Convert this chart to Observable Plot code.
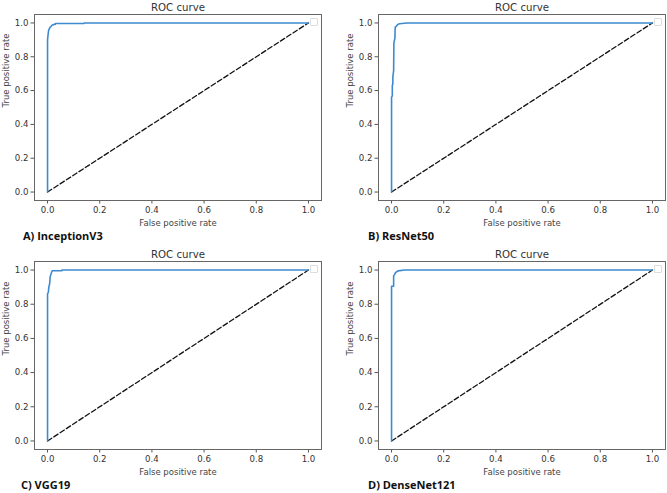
<!DOCTYPE html>
<html>
<head>
<meta charset="utf-8">
<script src="https://cdn.jsdelivr.net/npm/d3@7"></script>
<script src="https://cdn.jsdelivr.net/npm/@observablehq/plot@0.6"></script>
<style>
  html, body { margin: 0; padding: 0; background: #fff; }
  #wrap { position: relative; width: 667px; height: 493px; overflow: hidden; font-family: "DejaVu Sans", sans-serif; }
  .panel { position: absolute; }
  .cap { position: absolute; font-family: "Open Sans", "Liberation Sans", sans-serif; font-weight: 700; font-size: 11px; color: #111; white-space: nowrap; }
  .leg { position: absolute; width: 6px; height: 6px; border: 1px solid #ddd; background: #fff; border-radius: 1px; }
</style>
</head>
<body>
<div id="wrap"></div>
<script>
// ---- data ----
const panelTitles = ["ROC curve", "ROC curve", "ROC curve", "ROC curve"];
const captions = ["A) InceptionV3", "B) ResNet50", "C) VGG19", "D) DenseNet121"];
const xLabel = "False positive rate";
const yLabel = "True positive rate";
const tickValues = [0, 0.2, 0.4, 0.6, 0.8, 1.0];

const diagFpr = [0, 1];
const diagTpr = [0, 1];

const fprA = [0, 0, 0.002, 0.004, 0.008, 0.012, 0.018, 0.03, 0.03, 0.14, 0.14, 1];
const tprA = [0, 0.90, 0.93, 0.955, 0.97, 0.978, 0.988, 0.993, 0.997, 0.997, 1, 1];

const fprB = [0, 0, 0.003, 0.003, 0.005, 0.005, 0.008, 0.009, 0.01, 0.013, 0.014, 0.018, 0.023, 0.03, 0.06, 1];
const tprB = [0, 0.56, 0.57, 0.63, 0.64, 0.68, 0.72, 0.88, 0.89, 0.91, 0.975, 0.98, 0.99, 0.995, 1, 1];

const fprC = [0, 0, 0.003, 0.005, 0.008, 0.01, 0.015, 0.018, 0.055, 0.055, 1];
const tprC = [0, 0.86, 0.87, 0.90, 0.92, 0.96, 0.985, 0.996, 0.996, 1, 1];

const fprD = [0, 0, 0.008, 0.008, 0.012, 0.015, 0.02, 0.025, 0.05, 1];
const tprD = [0, 0.905, 0.905, 0.965, 0.975, 0.985, 0.99, 0.995, 1, 1];

const curves = [[fprA, tprA], [fprB, tprB], [fprC, tprC], [fprD, tprD]];

// ---- layout (panel boxes) ----
const layout = [
  {left: 0,   top: 0,   w: 333, h: 246, ml: 34, mr: 12, mt: 14, mb: 46, capX: 23,  capY: 228},
  {left: 334, top: 0,   w: 333, h: 246, ml: 44, mr: 2,  mt: 14, mb: 46, capX: 34,  capY: 228},
  {left: 0,   top: 247, w: 333, h: 246, ml: 34, mr: 12, mt: 14, mb: 44, capX: 21,  capY: 230},
  {left: 334, top: 247, w: 333, h: 246, ml: 44, mr: 2,  mt: 14, mb: 44, capX: 34,  capY: 230}
];

const wrap = document.getElementById("wrap");
const fmt = d3.format(".1f");

curves.forEach(([fpr, tpr], i) => {
  const L = layout[i];
  const roc = fpr.map((f, k) => ({fpr: f, tpr: tpr[k]}));
  const diag = diagFpr.map((f, k) => ({fpr: f, tpr: diagTpr[k]}));
  const chart = Plot.plot({
    width: L.w, height: L.h,
    marginLeft: L.ml, marginRight: L.mr, marginTop: L.mt, marginBottom: L.mb,
    style: {fontFamily: "DejaVu Sans, sans-serif", background: "transparent", color: "#333"},
    x: {domain: [-0.05, 1.05]},
    y: {domain: [-0.05, 1.05]},
    marks: [
      Plot.axisX({ticks: tickValues, tickFormat: fmt, tickSize: 3.5, tickPadding: 2.5, fontSize: 8.6, stroke: "#555", fill: "#333",
                  label: null}),
      Plot.axisY({ticks: tickValues, tickFormat: fmt, tickSize: 3.5, tickPadding: 2.5, fontSize: 8.6, stroke: "#555", fill: "#333",
                  label: null}),
      Plot.text([xLabel], {frameAnchor: "bottom", dy: 25, lineAnchor: "bottom", fontSize: 8.5, fill: "#444"}),
      Plot.text([yLabel], {frameAnchor: "left", dx: -28, rotate: -90, fontSize: 8.5, fill: "#444"}),
      Plot.text([panelTitles[i]], {frameAnchor: "top", dy: -4, lineAnchor: "bottom", fontSize: 10.2, fill: "#333"}),
      Plot.line(diag, {x: "fpr", y: "tpr", stroke: "#111", strokeWidth: 1.3, strokeDasharray: "5,2.5"}),
      Plot.line(roc, {x: "fpr", y: "tpr", stroke: "#3d8ad0", strokeWidth: 1.6}),
      Plot.frame({stroke: "#666", strokeWidth: 1})
    ]
  });
  const div = document.createElement("div");
  div.className = "panel";
  div.style.left = L.left + "px";
  div.style.top = L.top + "px";
  div.appendChild(chart);
  wrap.appendChild(div);

  const leg = document.createElement("div");
  leg.className = "leg";
  leg.style.left = (L.left + L.w - L.mr - 11) + "px";
  leg.style.top = (L.top + L.mt + 4) + "px";
  wrap.appendChild(leg);

  const cap = document.createElement("div");
  cap.className = "cap";
  cap.textContent = captions[i];
  cap.style.left = (L.left + L.capX) + "px";
  cap.style.top = (L.top + L.capY) + "px";
  wrap.appendChild(cap);
});
</script>
</body>
</html>
